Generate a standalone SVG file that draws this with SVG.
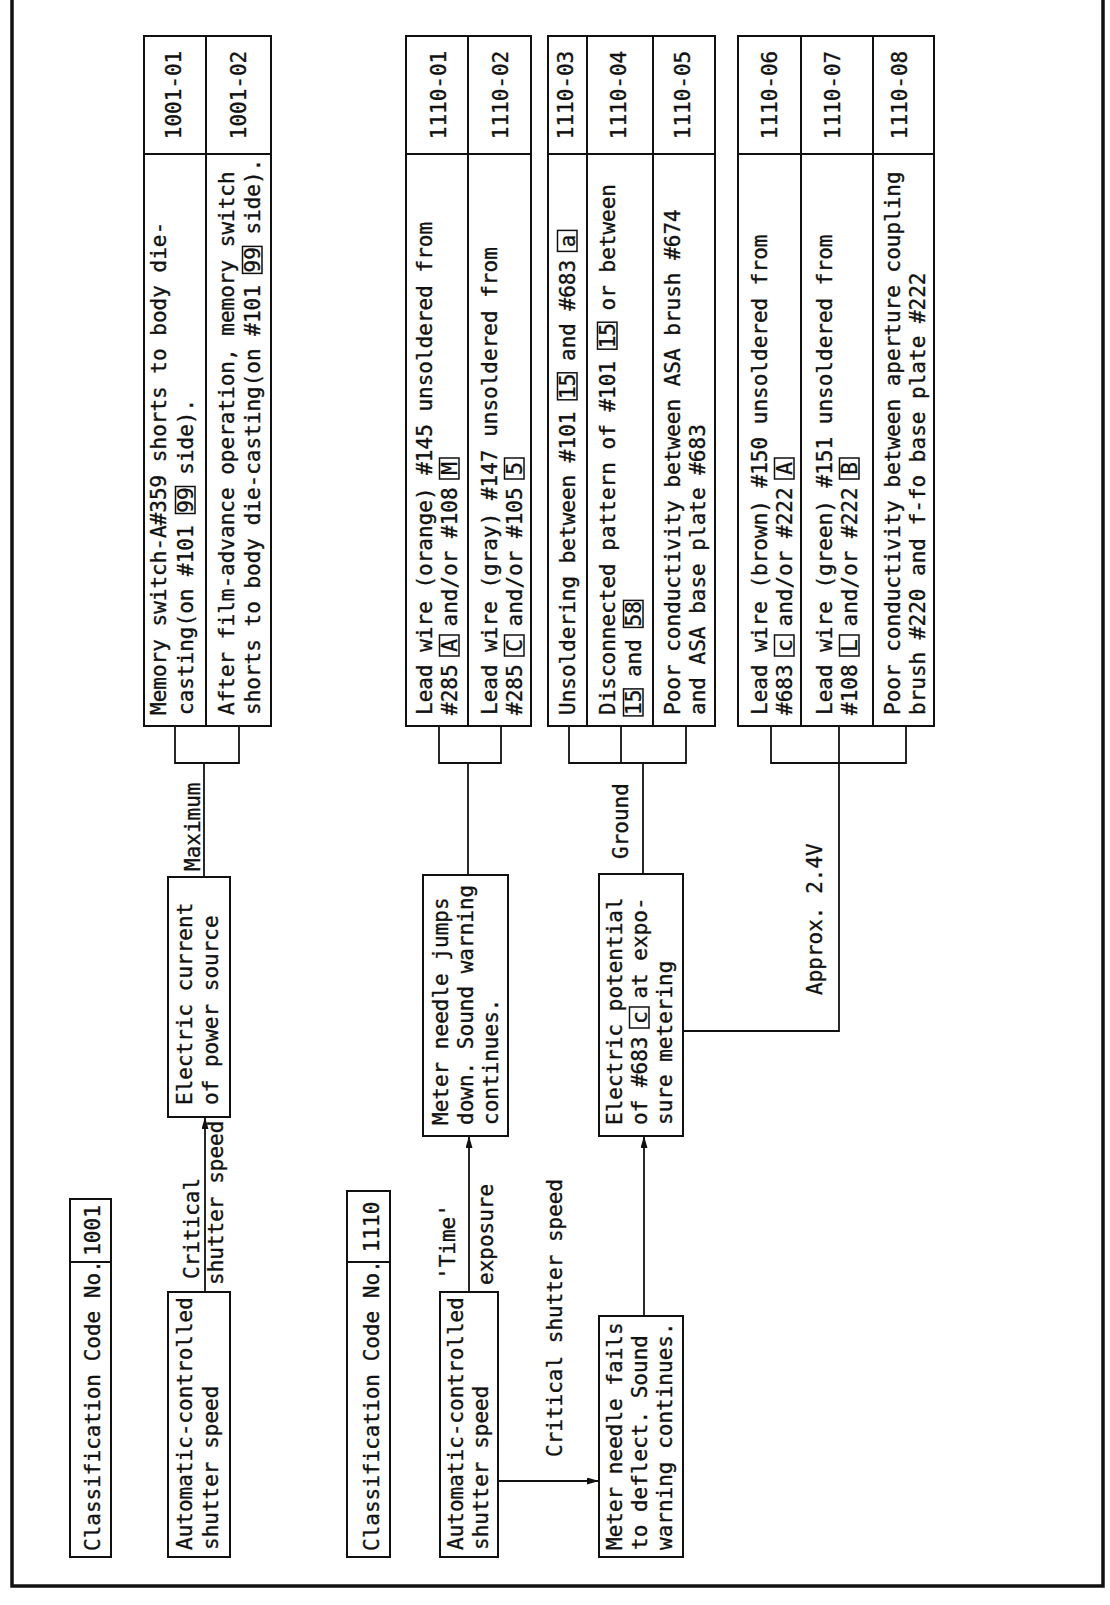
<svg xmlns="http://www.w3.org/2000/svg" width="1110" height="1605" viewBox="0 0 1110 1605">
<style>
.t{font-family:"DejaVu Sans Mono","Liberation Mono",monospace;font-size:21px;fill:#111;stroke:#111;stroke-width:0.35}
.m{text-anchor:middle}
.box{fill:#fff;stroke:#111;stroke-width:2}
.ln{fill:none;stroke:#111;stroke-width:1.8}
.cb{fill:none;stroke:#111;stroke-width:1.5}
.frame{fill:none;stroke:#111;stroke-width:3.5}
</style>
<defs>
<marker id="arr" markerUnits="userSpaceOnUse" markerWidth="13" markerHeight="7" refX="12" refY="3.5" orient="auto">
<path d="M0,0 L12,3.5 L0,7 z" fill="#111"/>
</marker>
</defs>
<rect x="0" y="0" width="1110" height="1605" fill="#fff"/>
<path class="frame" d="M12,0 V1586 H1103 V0"/>
<g transform="matrix(0,-1,1,0,0,1605)">
<g id="connectors">
<line class="ln" x1="313" y1="205" x2="488" y2="205" marker-end="url(#arr)"/>
<text class="t" x="326" y="199">Critical</text>
<text class="t" x="320" y="223">shutter speed</text>
<line class="ln" x1="728" y1="204" x2="842" y2="204"/>
<text class="t" x="734" y="200">Maximum</text>
<path class="ln" d="M879,175 L842,175 L842,239 L879,239"/>
<line class="ln" x1="313" y1="469" x2="469" y2="469" marker-end="url(#arr)"/>
<text class="t" x="325" y="455">'Time'</text>
<text class="t" x="320" y="493">exposure</text>
<line class="ln" x1="730" y1="468" x2="842" y2="468"/>
<path class="ln" d="M879,439 L842,439 L842,501 L879,501"/>
<line class="ln" x1="124" y1="498" x2="124" y2="599" marker-end="url(#arr)"/>
<text class="t" x="148" y="562">Critical shutter speed</text>
<line class="ln" x1="289" y1="644" x2="469" y2="644" marker-end="url(#arr)"/>
<line class="ln" x1="731" y1="643" x2="842" y2="643"/>
<text class="t" x="746" y="628">Ground</text>
<path class="ln" d="M879,569 L842,569 L842,686 L879,686 M842,621 L879,621"/>
<path class="ln" d="M574,683 L574,839 L879,839"/>
<text class="t" x="610" y="822">Approx. 2.4V</text>
<path class="ln" d="M879,771 L842,771 L842,906 L879,906"/>
</g>
<g id="code1001">
<rect class="box" x="48" y="70" width="358" height="41"/>
<line class="ln" x1="343" y1="70" x2="343" y2="111"/>
<text class="t" x="54" y="100">Classification Code No.</text>
<text class="t m" x="374.5" y="100">1001</text>
</g>
<g id="auto1">
<rect class="box" x="48" y="168" width="265" height="62"/>
<text class="t" x="55" y="192">Automatic-controlled</text>
<text class="t" x="55" y="218">shutter speed</text>
</g>
<g id="elec">
<rect class="box" x="488" y="168" width="240" height="62"/>
<text class="t" x="500" y="192">Electric current</text>
<text class="t" x="500" y="218">of power source</text>
</g>
<g id="r1001-01">
<rect class="box" x="879" y="144" width="572" height="62"/>
<rect class="box" x="1451" y="144" width="118" height="62"/>
<text class="t" x="890" y="166">Memory switch-A#359 shorts to body die-</text>
<text class="t" x="890" y="193">casting(on #101 99 side).</text>
<rect class="cb" x="1091.5" y="175.5" width="27" height="19.5"/>
<text class="t m" x="1510" y="181">1001-01</text>
</g>
<g id="r1001-02">
<rect class="box" x="879" y="206" width="572" height="65"/>
<rect class="box" x="1451" y="206" width="118" height="65"/>
<text class="t" x="890" y="234">After film-advance operation, memory switch</text>
<text class="t" x="890" y="260">shorts to body die-casting(on #101 99 side).</text>
<rect class="cb" x="1331.6" y="242.5" width="27" height="19.5"/>
<text class="t m" x="1510" y="246">1001-02</text>
</g>
<g id="code1110">
<rect class="box" x="48" y="347" width="366" height="43"/>
<line class="ln" x1="343" y1="347" x2="343" y2="390"/>
<text class="t" x="54" y="379">Classification Code No.</text>
<text class="t m" x="378" y="379">1110</text>
</g>
<g id="auto2">
<rect class="box" x="48" y="440" width="265" height="58"/>
<text class="t" x="55" y="463">Automatic-controlled</text>
<text class="t" x="55" y="488">shutter speed</text>
</g>
<g id="jumps">
<rect class="box" x="469" y="423" width="261" height="85"/>
<text class="t" x="480" y="448">Meter needle jumps</text>
<text class="t" x="480" y="473">down. Sound warning</text>
<text class="t" x="480" y="498">continues.</text>
</g>
<g id="r1110-01">
<rect class="box" x="879" y="406" width="572" height="62"/>
<rect class="box" x="1451" y="406" width="118" height="62"/>
<text class="t" x="890" y="432">Lead wire (orange) #145 unsoldered from</text>
<text class="t" x="890" y="457">#285 A and/or #108 M</text>
<rect class="cb" x="949" y="439.5" width="21" height="19.5"/>
<rect class="cb" x="1126" y="439.5" width="21" height="19.5"/>
<text class="t m" x="1510" y="446">1110-01</text>
</g>
<g id="r1110-02">
<rect class="box" x="879" y="468" width="572" height="63"/>
<rect class="box" x="1451" y="468" width="118" height="63"/>
<text class="t" x="890" y="497">Lead wire (gray) #147 unsoldered from</text>
<text class="t" x="890" y="522">#285 C and/or #105 5</text>
<rect class="cb" x="949" y="504.5" width="21" height="19.5"/>
<rect class="cb" x="1126" y="504.5" width="21" height="19.5"/>
<text class="t m" x="1510" y="508">1110-02</text>
</g>
<g id="fails">
<rect class="box" x="48" y="599" width="241" height="84"/>
<text class="t" x="55" y="622">Meter needle fails</text>
<text class="t" x="55" y="647">to deflect. Sound</text>
<text class="t" x="55" y="672">warning continues.</text>
</g>
<g id="elecpot">
<rect class="box" x="469" y="599" width="262" height="84"/>
<text class="t" x="480" y="622">Electric potential</text>
<text class="t" x="480" y="647">of #683 c at expo-</text>
<rect class="cb" x="577" y="629.5" width="21" height="19.5"/>
<text class="t" x="480" y="672">sure metering</text>
</g>
<g id="r1110-03">
<rect class="box" x="879" y="548" width="572" height="39"/>
<rect class="box" x="1451" y="548" width="118" height="39"/>
<text class="t" x="890" y="575">Unsoldering between #101 15 and #683 a</text>
<rect class="cb" x="1205.2" y="557.5" width="27" height="19.5"/>
<rect class="cb" x="1353.6" y="557.5" width="21" height="19.5"/>
<text class="t m" x="1510" y="573">1110-03</text>
</g>
<g id="r1110-04">
<rect class="box" x="879" y="587" width="572" height="66"/>
<rect class="box" x="1451" y="587" width="118" height="66"/>
<text class="t" x="890" y="615">Disconnected pattern of #101 15 or between</text>
<rect class="cb" x="1255.8" y="597.5" width="27" height="19.5"/>
<text class="t" x="890" y="641">15 and 58</text>
<rect class="cb" x="889.1" y="623.5" width="27" height="19.5"/>
<rect class="cb" x="977.6" y="623.5" width="27" height="19.5"/>
<text class="t m" x="1510" y="626">1110-04</text>
</g>
<g id="r1110-05">
<rect class="box" x="879" y="653" width="572" height="62"/>
<rect class="box" x="1451" y="653" width="118" height="62"/>
<text class="t" x="890" y="680">Poor conductivity between ASA brush #674</text>
<text class="t" x="890" y="705">and ASA base plate #683</text>
<text class="t m" x="1510" y="690">1110-05</text>
</g>
<g id="r1110-06">
<rect class="box" x="879" y="738" width="572" height="63"/>
<rect class="box" x="1451" y="738" width="118" height="63"/>
<text class="t" x="890" y="767">Lead wire (brown) #150 unsoldered from</text>
<text class="t" x="890" y="792">#683 c and/or #222 A</text>
<rect class="cb" x="949" y="774.5" width="21" height="19.5"/>
<rect class="cb" x="1126" y="774.5" width="21" height="19.5"/>
<text class="t m" x="1510" y="777">1110-06</text>
</g>
<g id="r1110-07">
<rect class="box" x="879" y="801" width="572" height="72"/>
<rect class="box" x="1451" y="801" width="118" height="72"/>
<text class="t" x="890" y="832">Lead wire (green) #151 unsoldered from</text>
<text class="t" x="890" y="857">#108 L and/or #222 B</text>
<rect class="cb" x="949" y="839.5" width="21" height="19.5"/>
<rect class="cb" x="1126" y="839.5" width="21" height="19.5"/>
<text class="t m" x="1510" y="840">1110-07</text>
</g>
<g id="r1110-08">
<rect class="box" x="879" y="873" width="572" height="61"/>
<rect class="box" x="1451" y="873" width="118" height="61"/>
<text class="t" x="890" y="900">Poor conductivity between aperture coupling</text>
<text class="t" x="890" y="925">brush #220 and f-fo base plate #222</text>
<text class="t m" x="1510" y="907">1110-08</text>
</g>
</g>
</svg>
